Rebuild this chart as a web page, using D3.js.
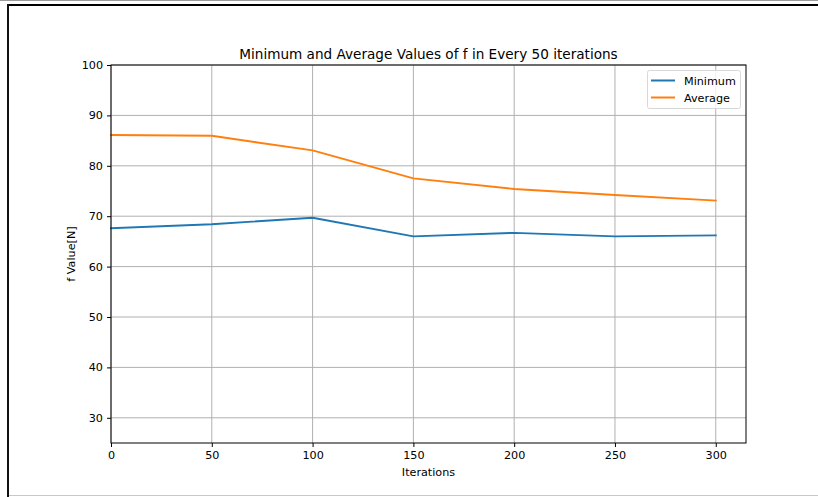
<!DOCTYPE html>
<html>
<head>
<meta charset="utf-8">
<script src="https://cdn.jsdelivr.net/npm/d3@7"></script>
<style>
  html, body { margin: 0; padding: 0; background: #fff; }
  svg { display: block; font-family: "DejaVu Sans", sans-serif; }
</style>
</head>
<body>
<svg id="chart" width="818" height="497"></svg>
<script>
// Sampled every 50 iterations
const iterations = [0, 50, 100, 150, 200, 250, 300];
const minimumValues = [67.6, 68.4, 69.7, 66.0, 66.7, 66.0, 66.2];
const averageValues = [86.1, 85.95, 83.05, 77.5, 75.4, 74.2, 73.1];
const xTicks = [0, 50, 100, 150, 200, 250, 300];
const yTicks = [30, 40, 50, 60, 70, 80, 90, 100];
const seriesNames = ["Minimum", "Average"];
const seriesColors = ["#1f77b4", "#ff7f0e"];

const svg = d3.select("#chart");
const W = 818, H = 497;

// outer frame
svg.append("line").attr("x1", 0).attr("x2", W).attr("y1", 0.5).attr("y2", 0.5)
  .attr("stroke", "#9a9a9a").attr("stroke-width", 1);
svg.append("line").attr("x1", 7).attr("x2", W).attr("y1", 5).attr("y2", 5)
  .attr("stroke", "#000").attr("stroke-width", 2);
svg.append("line").attr("x1", 8).attr("x2", 8).attr("y1", 4).attr("y2", H)
  .attr("stroke", "#111").attr("stroke-width", 2);
svg.append("line").attr("x1", 9).attr("x2", W).attr("y1", 495.5).attr("y2", 495.5)
  .attr("stroke", "#c8c8c8").attr("stroke-width", 1);

const plot = { left: 111, right: 746, top: 65, bottom: 443 };
const x = d3.scaleLinear().domain([0, 315]).range([plot.left, plot.right]);
const y = d3.scaleLinear().domain([25, 100]).range([plot.bottom, plot.top]);

// grid
const grid = svg.append("g");
grid.selectAll("line.gx").data(xTicks).join("line")
  .attr("x1", d => x(d)).attr("x2", d => x(d))
  .attr("y1", plot.top).attr("y2", plot.bottom)
  .attr("stroke", "#b0b0b0").attr("stroke-width", 1);
grid.selectAll("line.gy").data(yTicks).join("line")
  .attr("x1", plot.left).attr("x2", plot.right)
  .attr("y1", d => y(d)).attr("y2", d => y(d))
  .attr("stroke", "#b0b0b0").attr("stroke-width", 1);

// series
const series = [minimumValues, averageValues];
const line = d3.line().x((d, i) => x(iterations[i])).y(d => y(d));
series.forEach((vals, k) => {
  svg.append("path").datum(vals)
    .attr("d", line)
    .attr("fill", "none")
    .attr("stroke", seriesColors[k])
    .attr("stroke-width", 1.9)
    .attr("stroke-linejoin", "round")
    .attr("stroke-linecap", "square");
});

// axes box
svg.append("rect")
  .attr("x", plot.left).attr("y", plot.top)
  .attr("width", plot.right - plot.left).attr("height", plot.bottom - plot.top)
  .attr("fill", "none").attr("stroke", "#000").attr("stroke-width", 1);

// axes
const xAxis = svg.append("g")
  .attr("transform", `translate(0,${plot.bottom})`)
  .call(d3.axisBottom(x).tickValues(xTicks).tickSize(4).tickPadding(4).tickFormat(d3.format("d")));
const yAxis = svg.append("g")
  .attr("transform", `translate(${plot.left},0)`)
  .call(d3.axisLeft(y).tickValues(yTicks).tickSize(4).tickPadding(4).tickFormat(d3.format("d")));
[xAxis, yAxis].forEach(a => {
  a.select(".domain").remove();
  a.selectAll("text").attr("font-size", 11.2).attr("fill", "#000")
    .attr("font-family", "DejaVu Sans, sans-serif");
  a.selectAll(".tick line").attr("stroke", "#000");
});

// title and axis labels
svg.append("text")
  .attr("x", (plot.left + plot.right) / 2).attr("y", 59)
  .attr("text-anchor", "middle").attr("font-size", 13.6)
  .text("Minimum and Average Values of f in Every 50 iterations");
svg.append("text")
  .attr("x", (plot.left + plot.right) / 2).attr("y", 476)
  .attr("text-anchor", "middle").attr("font-size", 11.2)
  .text("Iterations");
svg.append("text")
  .attr("transform", `translate(75,${(plot.top + plot.bottom) / 2}) rotate(-90)`)
  .attr("text-anchor", "middle").attr("font-size", 11.2)
  .text("f Value[N]");

// legend
const lg = svg.append("g");
lg.append("rect")
  .attr("x", 647.5).attr("y", 70.5).attr("width", 93).attr("height", 38).attr("rx", 2)
  .attr("fill", "#fff").attr("fill-opacity", 0.8)
  .attr("stroke", "#d8d8d8").attr("stroke-width", 1);
seriesNames.forEach((name, k) => {
  const yy = 80.5 + k * 17;
  lg.append("line").attr("x1", 651).attr("x2", 675).attr("y1", yy).attr("y2", yy)
    .attr("stroke", seriesColors[k]).attr("stroke-width", 2);
  lg.append("text").attr("x", 684).attr("y", yy + 4).attr("font-size", 11.2).text(name);
});
</script>
</body>
</html>
